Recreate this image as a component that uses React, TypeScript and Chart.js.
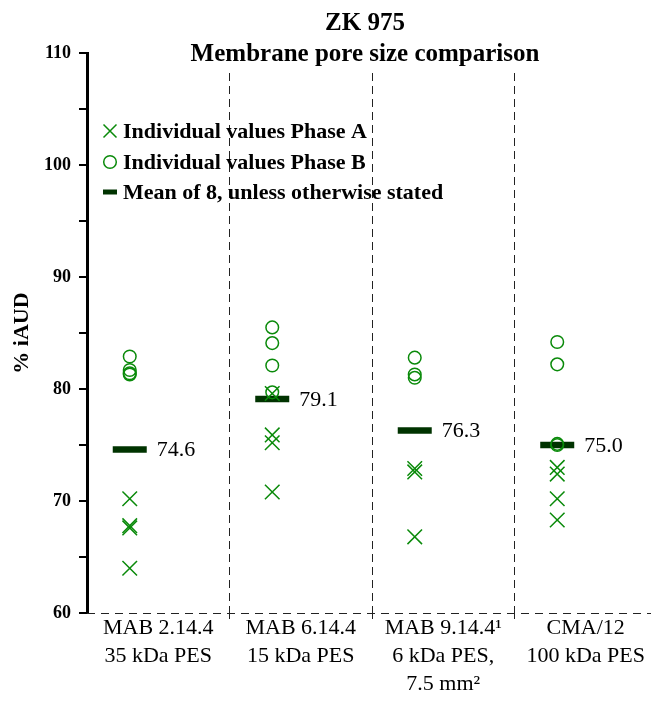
import React, { useEffect, useRef } from 'react';
import { Chart, registerables } from 'chart.js';

Chart.register(...registerables);

// ---- data ----
const categories: string[][] = [
  ['MAB 2.14.4', '35 kDa PES'],
  ['MAB 6.14.4', '15 kDa PES'],
  ['MAB 9.14.4\u00B9', '6 kDa PES,', '7.5 mm\u00B2'],
  ['CMA/12', '100 kDa PES'],
];
const phaseA: number[][] = [
  [70.2, 67.8, 67.6, 64.0],
  [79.6, 75.9, 75.2, 70.8],
  [72.9, 72.6, 66.8],
  [73.0, 72.4, 70.2, 68.3],
];
const phaseB: number[][] = [
  [82.9, 81.7, 81.4, 81.3],
  [85.5, 84.1, 82.1, 79.7],
  [82.8, 81.3, 81.0],
  [84.2, 82.2, 75.1, 75.0],
];
const means: number[] = [74.6, 79.1, 76.3, 75.0];
const yMin = 60;
const yMax = 110;
const yStep = 10;
const titleLines = ['ZK 975', 'Membrane pore size comparison'];
const yTitle = '% iAUD';
const legendLabels = [
  'Individual values Phase A',
  'Individual values Phase B',
  'Mean of 8, unless otherwise stated',
];

// ---- styles ----
const FONT = "'Liberation Serif', 'Times New Roman', serif";
const GREEN = '#0a8a0a';
const DARK = '#003300';
const MARK_SHIFT = -0.2; // markers sit left of the category centre
const X_MAX = 3.458;
const MEAN_HALF = 17;

const overlay = {
  id: 'overlay',
  beforeDatasetsDraw(chart: any) {
    const { ctx, chartArea: a, scales } = chart;
    const x = scales.x;
    ctx.save();
    ctx.strokeStyle = '#222';
    ctx.lineWidth = 1;
    const bounds: number[] = [];
    for (let i = 0; i < categories.length - 1; i++) {
      bounds.push(Math.round(x.getPixelForValue(i + 0.5)) + 0.5);
    }
    ctx.setLineDash([8, 5]);
    bounds.forEach((px) => {
      ctx.beginPath();
      ctx.moveTo(px, a.top + 20);
      ctx.lineTo(px, a.bottom);
      ctx.stroke();
    });
    ctx.setLineDash([8, 6]);
    ctx.beginPath();
    ctx.moveTo(a.left, Math.round(a.bottom) + 0.5);
    ctx.lineTo(chart.width, Math.round(a.bottom) + 0.5);
    ctx.stroke();
    ctx.setLineDash([]);
    bounds.forEach((px) => {
      ctx.beginPath();
      ctx.moveTo(px, a.bottom - 5);
      ctx.lineTo(px, a.bottom + 6);
      ctx.stroke();
    });
    ctx.restore();
  },
  afterDraw(chart: any) {
    const { ctx, chartArea: a } = chart;
    ctx.save();
    // title
    ctx.fillStyle = '#000';
    ctx.textAlign = 'center';
    ctx.textBaseline = 'alphabetic';
    ctx.font = `bold 25px ${FONT}`;
    const cx = (a.left + a.right) / 2 - 4;
    ctx.fillText(titleLines[0], cx, 30);
    ctx.fillText(titleLines[1], cx, 61);

    // legend
    const lx = a.left + 23;
    const tx = a.left + 36;
    const rows = [a.top + 78, a.top + 109, a.top + 139];
    ctx.font = `bold 22px ${FONT}`;
    ctx.textAlign = 'left';
    ctx.textBaseline = 'middle';
    rows.forEach((ry, i) => {
      ctx.strokeStyle = i === 2 ? DARK : GREEN;
      if (i === 0) {
        ctx.lineWidth = 1.5;
        ctx.beginPath();
        ctx.moveTo(lx - 6.5, ry - 6.5);
        ctx.lineTo(lx + 6.5, ry + 6.5);
        ctx.moveTo(lx + 6.5, ry - 6.5);
        ctx.lineTo(lx - 6.5, ry + 6.5);
        ctx.stroke();
      } else if (i === 1) {
        ctx.lineWidth = 1.5;
        ctx.beginPath();
        ctx.arc(lx, ry, 6.3, 0, Math.PI * 2);
        ctx.stroke();
      } else {
        ctx.lineWidth = 5;
        ctx.beginPath();
        ctx.moveTo(lx - 7, ry);
        ctx.lineTo(lx + 7, ry);
        ctx.stroke();
      }
      ctx.fillStyle = '#000';
      ctx.fillText(legendLabels[i], tx, ry + 1);
    });

    // mean value labels
    ctx.font = `22px ${FONT}`;
    const meta = chart.getDatasetMeta(2);
    meta.data.forEach((el: any, i: number) => {
      ctx.fillText(means[i].toFixed(1), el.x + MEAN_HALF + 10, el.y + 1);
    });
    ctx.restore();
  },
};

export default function App() {
  const ref = useRef<HTMLCanvasElement | null>(null);

  useEffect(() => {
    if (!ref.current) return;
    const aPts = phaseA.flatMap((vals, i) => vals.map((y) => ({ x: i + MARK_SHIFT, y })));
    const bPts = phaseB.flatMap((vals, i) => vals.map((y) => ({ x: i + MARK_SHIFT, y })));
    const mPts = means.map((y, i) => ({ x: i + MARK_SHIFT, y }));

    const chart = new Chart(ref.current, {
      type: 'scatter',
      data: {
        datasets: [
          {
            label: legendLabels[0],
            data: aPts,
            pointStyle: 'crossRot',
            pointRadius: 10.3,
            borderColor: GREEN,
            backgroundColor: GREEN,
            pointBorderWidth: 1.5,
          },
          {
            label: legendLabels[1],
            data: bPts,
            pointStyle: 'circle',
            pointRadius: 6.3,
            borderColor: GREEN,
            backgroundColor: 'rgba(0,0,0,0)',
            pointBorderWidth: 1.5,
          },
          {
            label: legendLabels[2],
            data: mPts,
            pointStyle: 'line',
            pointRadius: MEAN_HALF,
            borderColor: DARK,
            backgroundColor: DARK,
            pointBorderWidth: 6.5,
          },
        ],
      } as any,
      options: {
        animation: false,
        responsive: true,
        maintainAspectRatio: false,
        events: [],
        layout: { autoPadding: false, padding: { top: 53, left: 0, right: 0, bottom: 0 } },
        plugins: {
          legend: { display: false },
          tooltip: { enabled: false },
          title: { display: false },
        },
        scales: {
          x: {
            type: 'linear',
            position: 'bottom',
            min: -0.5,
            max: X_MAX,
            grid: { display: false, drawTicks: false },
            border: { display: false },
            afterBuildTicks: (scale: any) => {
              scale.ticks = categories.map((_, i) => ({ value: i }));
            },
            afterFit: (scale: any) => {
              scale.height = 89;
              scale.paddingLeft = 0;
              scale.paddingRight = 0;
            },
            ticks: {
              autoSkip: false,
              maxRotation: 0,
              minRotation: 0,
              padding: 1,
              color: '#000',
              font: { family: FONT, size: 22, lineHeight: 1.27 },
              callback: (v: any) => categories[v] ?? '',
            },
          },
          y: {
            min: yMin,
            max: yMax,
            afterFit: (scale: any) => {
              scale.width = 87;
              scale.paddingTop = 0;
              scale.paddingBottom = 0;
            },
            grid: {
              display: true,
              drawOnChartArea: false,
              drawTicks: true,
              tickLength: 8,
              color: '#000',
              lineWidth: 2,
            },
            border: { display: true, color: '#000', width: 3 },
            ticks: {
              stepSize: yStep / 2,
              padding: 8,
              color: '#000',
              font: { family: FONT, size: 18, weight: 'bold' },
              callback: (v: any) => (Number(v) % yStep === 0 ? String(v) : ''),
            },
            title: {
              display: true,
              text: yTitle,
              color: '#000',
              font: { family: FONT, size: 22, weight: 'bold' },
              padding: { top: 9, bottom: 0 },
            },
          },
        },
      } as any,
      plugins: [overlay],
    });
    return () => chart.destroy();
  }, []);

  return (
    <div style={{ position: 'absolute', left: 0, top: 0, width: 651, height: 702, background: '#fff' }}>
      <canvas ref={ref} />
    </div>
  );
}
